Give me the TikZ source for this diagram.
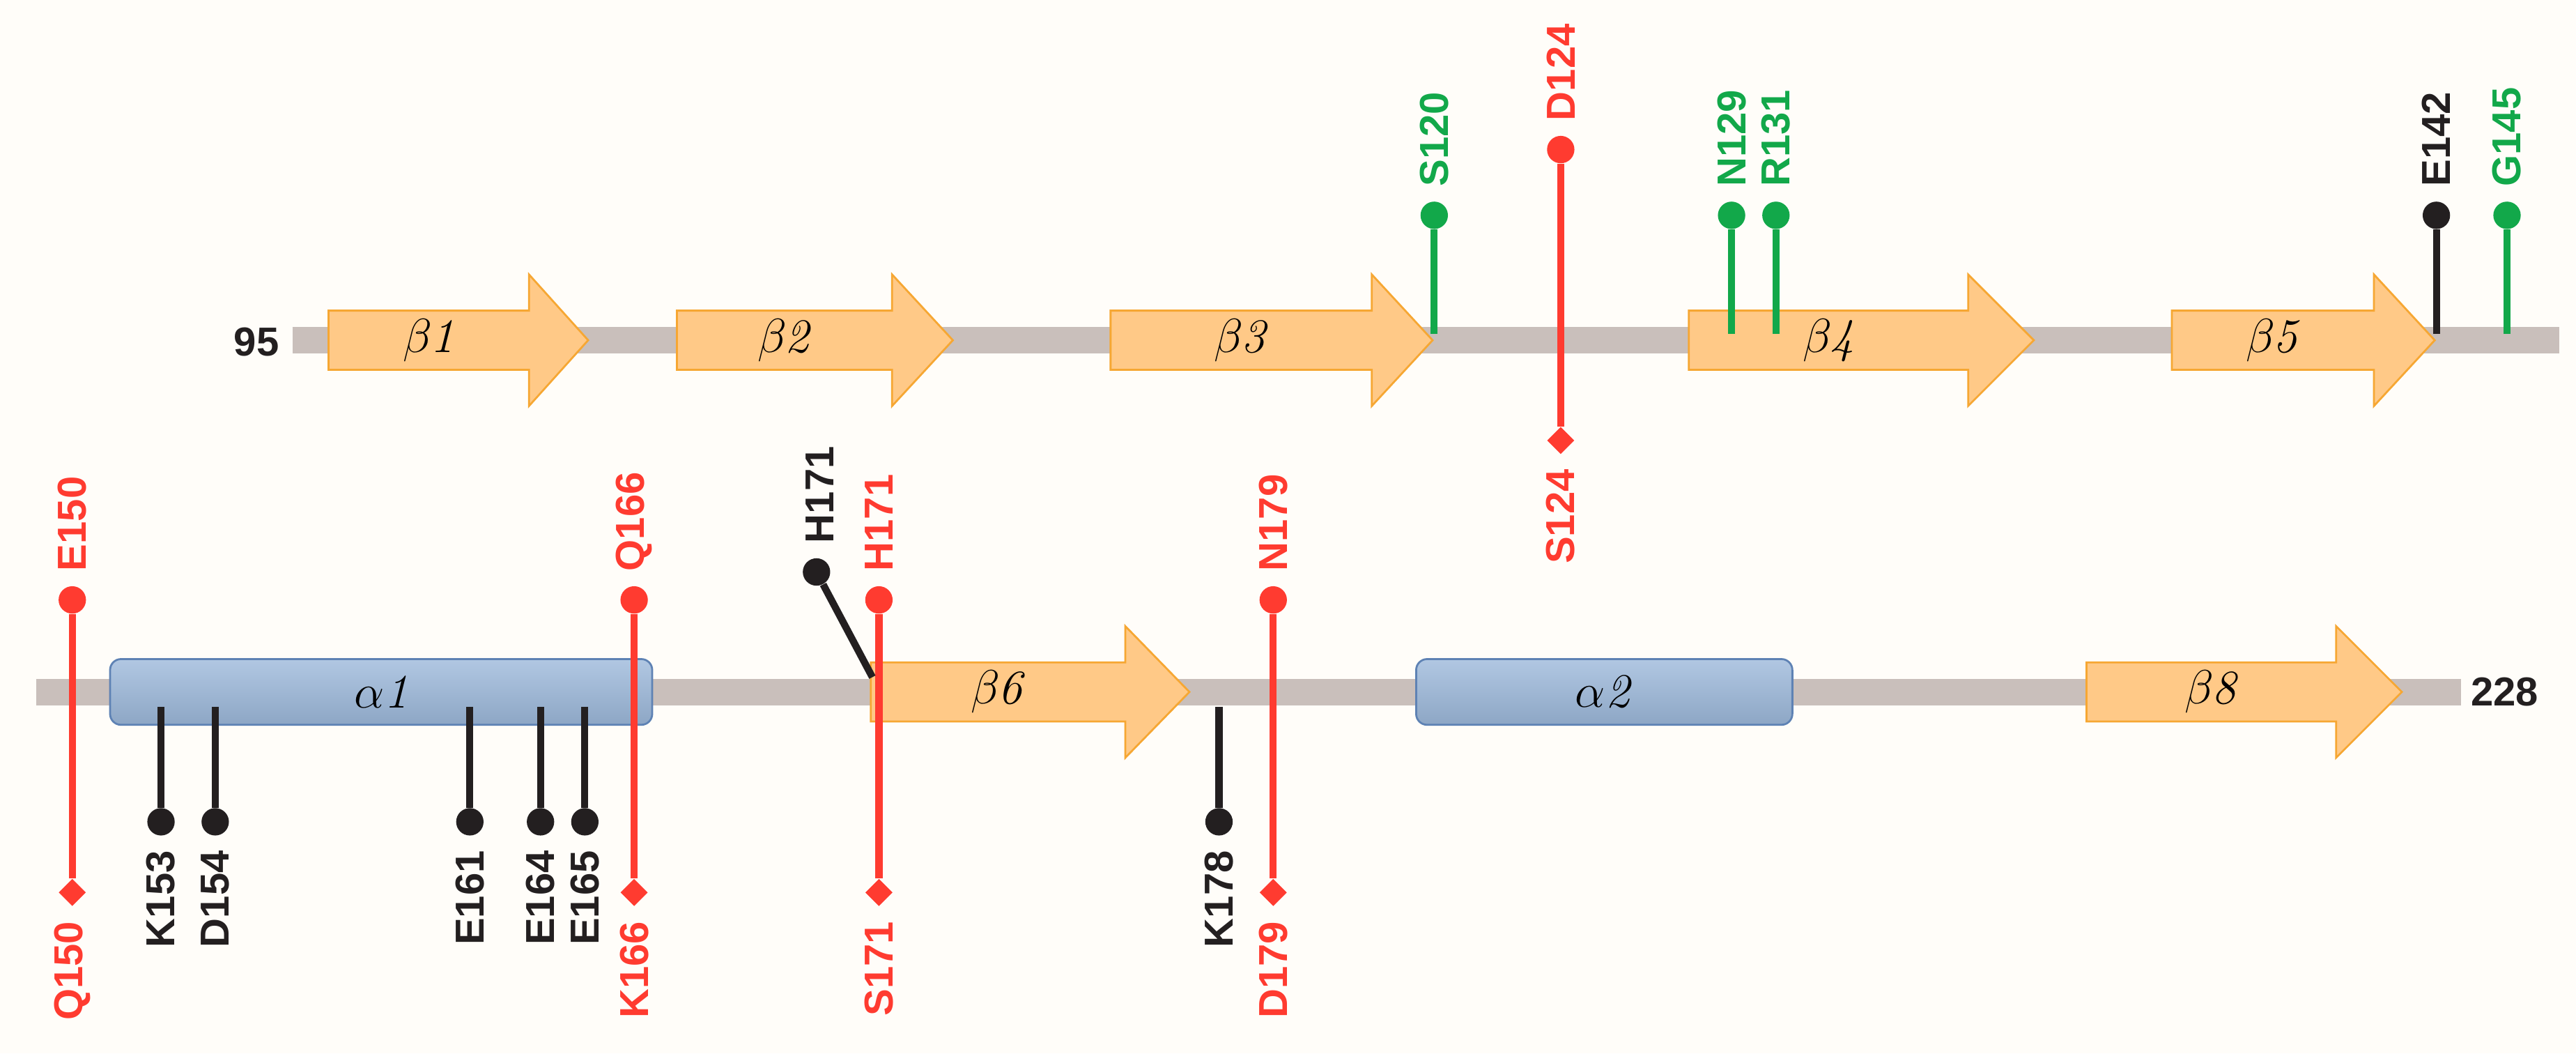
\documentclass[tikz,border=0pt]{standalone}
\usepackage{fontspec}
\newfontfamily\lab{Liberation Sans}
\usetikzlibrary{shapes.geometric,shapes.arrows}
\definecolor{bg}{HTML}{FFFDF9}
\definecolor{bb}{HTML}{C9BFBB}
\definecolor{af}{HTML}{FFC987}
\definecolor{ab}{HTML}{F6A733}
\definecolor{hf}{HTML}{9DB9DB}
\definecolor{hb}{HTML}{5E82B4}
\definecolor{rd}{HTML}{FF3B30}
\definecolor{gn}{HTML}{12A84A}
\definecolor{bk}{HTML}{231F20}
\tikzset{
 bone/.style={line width=0.48cm,bb},
 ball/.style={circle,fill=#1,inner sep=0pt,minimum size=0.5cm},
 dia/.style={diamond,fill=#1,inner sep=0pt,minimum size=0.5cm},
 stem/.style={line width=0.13cm,#1},
 lup/.style={rotate=90,anchor=west,font=\lab\bfseries\fontsize{21}{21}\selectfont,text=#1,inner sep=2pt},
 ldn/.style={rotate=90,anchor=east,font=\lab\bfseries\fontsize{21}{21}\selectfont,text=#1,inner sep=2pt},
 helix/.style={draw=hb,line width=1pt,rounded corners=0.2cm,top color=hf!80!white,bottom color=hf!90!black},
 num/.style={font=\lab\bfseries\fontsize{21}{21}\selectfont,text=bk},
 sslab/.style={font=\fontsize{25}{25}\selectfont}
}
\begin{document}
\begin{tikzpicture}[x=0.03cm,y=-0.03cm]
\fill[bg] (0,0) rectangle (1568,641);
\useasboundingbox (0,0) rectangle (1568,641);
% backbones
\coordinate (t0) at (178,207); \coordinate (t1) at (1558,207);
\draw[bone] (t0)--(t1);
\node[num,anchor=east] (n95) at (174,208) {95};
\coordinate (b0) at (22,421); \coordinate (b1) at (1498,421);
\draw[bone] (b0)--(b1);
\node[num,anchor=west] (n228) at (1500,421) {228};
% strands
\foreach \nm/\a/\h/\b/\y/\t in {s1/200/322/358/207/1, s2/412/543/580/207/2, s3/676/835/872/207/3, s4/1028/1198/1238/207/4, s5/1322/1445/1482/207/5, s6/530/685/724/421/6, s8/1270/1422/1462/421/8}{
 \fill[af,draw=ab,line width=1pt] (\a,\y-18)--(\h,\y-18)--(\h,\y-40)--(\b,\y)--(\h,\y+40)--(\h,\y+18)--(\a,\y+18)--cycle;
 \node[sslab] (\nm) at ({(\a+\h)/2},\y) {$\beta$\kern-1pt\textit{\t}};
}
% helices
\draw[helix] (67,401) rectangle (397,441);
\node[sslab] (h1) at (232,421) {$\alpha$\textit{1}};
\draw[helix] (862,401) rectangle (1091,441);
\node[sslab] (h2) at (976,421) {$\alpha$\textit{2}};
% top markers (ball above)
\foreach \nm/\x/\c/\t in {S120/873/gn/S120, N129/1054/gn/N129, R131/1081/gn/R131, E142/1483/bk/E142, G145/1526/gn/G145}{
 \coordinate (\nm a) at (\x,203);
 \node[ball=\c] (\nm b) at (\x,131) {};
 \draw[stem=\c] (\nm a)--(\nm b);
 \node[lup=\c] (\nm l) at (\x,116) {\t};
}
% red pairs
\foreach \nm/\x/\yb/\yd/\tu/\td in {D124/950/91/268/D124/S124, E150/44/365/543/E150/Q150, Q166/386/365/543/Q166/K166, H171/535/365/543/H171/S171, N179/775/365/543/N179/D179}{
 \node[ball=rd] (\nm b) at (\x,\yb) {};
 \node[dia=rd] (\nm d) at (\x,\yd) {};
 \draw[stem=rd] (\nm b)--(\nm d);
 \node[lup=rd] (\nm l) at (\x,\yb-15) {\tu};
 \node[ldn=rd] (\nm m) at (\x,\yd+15) {\td};
}
% bottom black markers
\foreach \nm/\x in {K153/98, D154/131, E161/286, E164/329, E165/356, K178/742}{
 \coordinate (\nm a) at (\x,430);
 \node[ball=bk] (\nm b) at (\x,500) {};
 \draw[stem=bk] (\nm a)--(\nm b);
 \node[ldn=bk] (\nm l) at (\x,515) {\nm};
}
% H171 black
\coordinate (Hka) at (531,412);
\node[ball=bk] (Hkb) at (497,348) {};
\draw[stem=bk] (Hka)--(Hkb);
\node[lup=bk] (Hkl) at (499,333) {H171};
\end{tikzpicture}
\end{document}
